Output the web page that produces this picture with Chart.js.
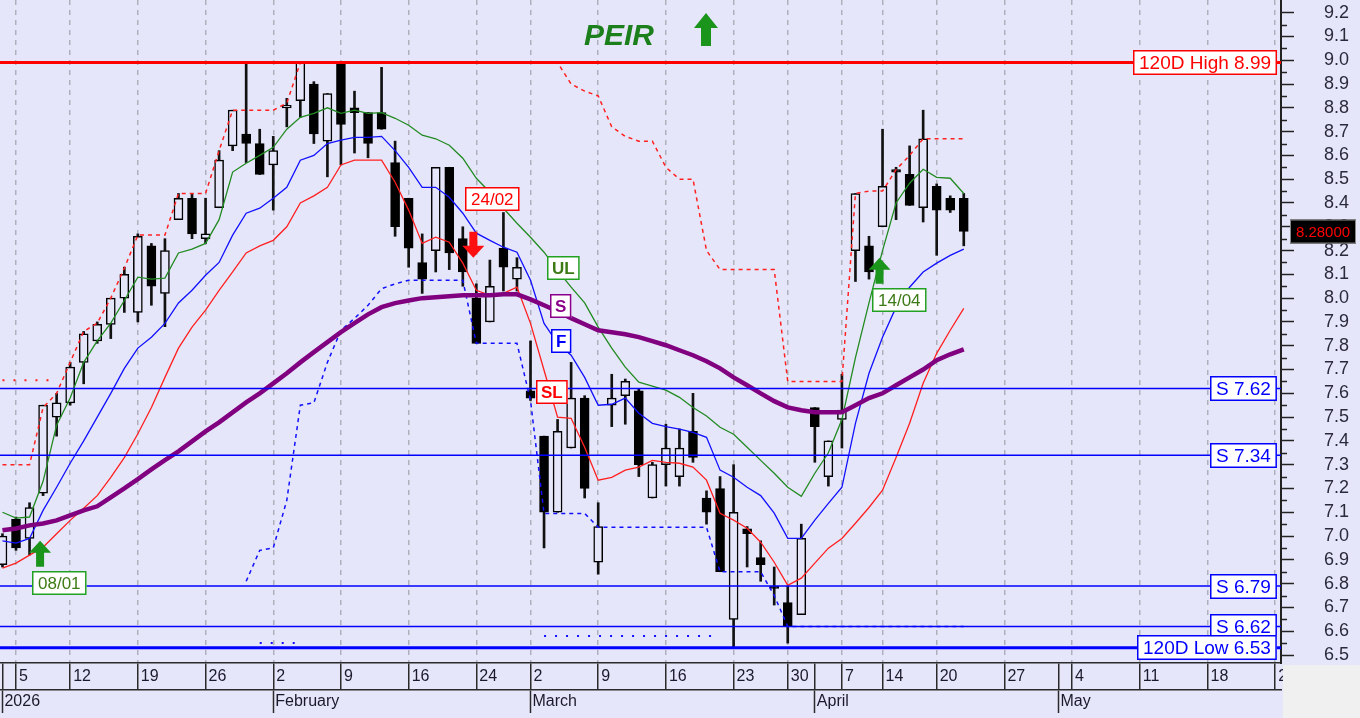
<!DOCTYPE html>
<html>
<head>
<meta charset="utf-8">
<script src="https://cdn.jsdelivr.net/npm/chart.js@4.4.1/dist/chart.umd.min.js"></script>
<style>
  html, body { margin: 0; padding: 0; background: #e6e6fa; }
  #wrap { width: 1360px; height: 718px; }
</style>
</head>
<body>
<div id="wrap"><canvas id="chart" width="1360" height="718"></canvas></div>
<script>
// ---- data ----
// trading days shown (index -1 = 2 Jan 2026)
const tradingDays = [
  '02/01','05/01','07/01','08/01','09/01','12/01','13/01','14/01','15/01','16/01',
  '19/01','20/01','21/01','22/01','23/01','26/01','27/01','28/01','29/01','30/01',
  '02/02','03/02','04/02','05/02','06/02','09/02','10/02','11/02','12/02','13/02',
  '16/02','17/02','18/02','19/02','20/02','24/02','25/02','26/02','27/02',
  '02/03','03/03','04/03','05/03','06/03','09/03','10/03','11/03','12/03','13/03',
  '16/03','17/03','18/03','19/03','20/03','23/03','24/03','26/03','27/03','30/03','31/03',
  '01/04','02/04','07/04','08/04','09/04','14/04','15/04','16/04','17/04','20/04','21/04','22/04'
];

const openP = [
  6.88, 7.07, 6.99, 7.18, 7.50, 7.56, 7.73, 7.82, 7.89, 8.00,
  7.94, 8.22, 8.02, 8.33, 8.42, 8.25, 8.38, 8.64, 8.69, 8.65,
  8.56, 8.80, 8.83, 8.90, 8.66, 8.99, 8.80, 8.78, 8.78, 8.57,
  8.42, 8.15, 8.20, 8.55, 8.25, 8.00, 7.90, 8.21, 8.08,
  7.61, 7.42, 7.10, 7.37, 7.58, 6.89, 7.55, 7.59, 7.61, 7.16,
  7.30, 7.25, 7.44, 7.16, 7.20, 6.65, 7.03, 6.91, 6.79, 6.72, 6.67,
  7.54, 7.25, 7.49, 8.20, 8.22, 8.30, 8.54, 8.52, 8.38, 8.47, 8.42, 8.42
];
const highP = [
  7.01, 7.08, 7.14, 7.55, 7.60, 7.73, 7.86, 7.90, 8.00, 8.13,
  8.27, 8.23, 8.25, 8.44, 8.44, 8.42, 8.62, 8.79, 8.99, 8.71,
  8.68, 8.84, 8.99, 8.91, 8.86, 8.99, 8.87, 8.78, 8.97, 8.66,
  8.42, 8.27, 8.55, 8.55, 8.30, 8.06, 8.16, 8.36, 8.17,
  7.82, 7.42, 7.49, 7.73, 7.59, 7.14, 7.68, 7.66, 7.62, 7.31,
  7.47, 7.45, 7.60, 7.19, 7.25, 7.30, 7.04, 6.98, 6.87, 6.79, 7.05,
  7.54, 7.40, 7.68, 8.44, 8.26, 8.71, 8.55, 8.64, 8.79, 8.48, 8.43, 8.44
];
const lowP = [
  6.87, 6.94, 6.92, 7.17, 7.42, 7.55, 7.64, 7.81, 7.83, 7.94,
  7.90, 7.97, 7.88, 8.33, 8.25, 8.23, 8.38, 8.62, 8.57, 8.52,
  8.37, 8.72, 8.76, 8.65, 8.51, 8.56, 8.61, 8.59, 8.71, 8.26,
  8.13, 8.02, 8.11, 8.12, 8.05, 7.81, 7.90, 8.03, 8.03,
  7.57, 6.95, 7.10, 7.37, 7.16, 6.84, 7.46, 7.47, 7.25, 7.16,
  7.21, 7.21, 7.31, 7.05, 6.85, 6.53, 6.87, 6.81, 6.71, 6.55, 6.67,
  7.31, 7.21, 7.37, 8.07, 8.08, 8.30, 8.33, 8.39, 8.32, 8.18, 8.36, 8.22
];
const closeP = [
  7.00, 6.95, 7.12, 7.55, 7.56, 7.71, 7.85, 7.89, 8.00, 8.10,
  8.26, 8.05, 8.20, 8.42, 8.27, 8.27, 8.58, 8.79, 8.65, 8.52,
  8.62, 8.81, 8.99, 8.69, 8.86, 8.73, 8.78, 8.65, 8.71, 8.30,
  8.21, 8.08, 8.55, 8.19, 8.11, 7.81, 8.05, 8.13, 8.13,
  7.58, 7.10, 7.44, 7.58, 7.20, 7.04, 7.58, 7.65, 7.30, 7.30,
  7.37, 7.37, 7.33, 7.10, 6.85, 7.10, 7.01, 6.88, 6.78, 6.62, 6.99,
  7.46, 7.40, 7.53, 8.44, 8.11, 8.47, 8.53, 8.39, 8.67, 8.37, 8.37, 8.28
];

// indicator lines (one value per trading day)
const lineUL = [
  7.10, 7.075, 7.08, 7.23, 7.466, 7.58, 7.73, 7.82, 7.895, 7.99,
  8.088, 8.08, 8.084, 8.19, 8.206, 8.23, 8.33, 8.53, 8.567, 8.60,
  8.634, 8.71, 8.76, 8.777, 8.80, 8.777, 8.79, 8.777, 8.78, 8.756,
  8.727, 8.685, 8.67, 8.643, 8.588, 8.504, 8.445, 8.378, 8.315,
  8.256, 8.193, 8.117, 8.046, 7.98, 7.878, 7.79, 7.71, 7.647, 7.63,
  7.613, 7.583, 7.54, 7.505, 7.457, 7.428, 7.373, 7.318, 7.264, 7.205, 7.167,
  7.264, 7.35, 7.49, 7.75, 7.98, 8.20, 8.40, 8.483, 8.542, 8.508, 8.504, 8.44
];
const lineF = [
  6.98, 6.97, 6.99, 7.108, 7.205, 7.306, 7.40, 7.50, 7.60, 7.705,
  7.79, 7.836, 7.894, 7.98, 8.033, 8.096, 8.15, 8.265, 8.357, 8.378,
  8.42, 8.466, 8.58, 8.60, 8.65, 8.664, 8.676, 8.676, 8.68, 8.62,
  8.55, 8.466, 8.466, 8.424, 8.357, 8.273, 8.243, 8.214, 8.193,
  8.075, 7.894, 7.81, 7.76, 7.667, 7.55, 7.554, 7.58, 7.516, 7.474,
  7.46, 7.449, 7.436, 7.415, 7.277, 7.247, 7.205, 7.17, 7.096, 6.99, 6.99,
  7.067, 7.137, 7.205, 7.474, 7.684, 7.836, 7.962, 8.046, 8.11, 8.147, 8.18, 8.206
];
const lineSL = [
  6.865, 6.886, 6.92, 6.953, 7.01, 7.066, 7.117, 7.17, 7.247, 7.33,
  7.43, 7.54, 7.667, 7.79, 7.878, 7.95, 8.033, 8.11, 8.19, 8.22,
  8.243, 8.30, 8.40, 8.43, 8.466, 8.56, 8.58, 8.58, 8.58, 8.487,
  8.37, 8.23, 8.256, 8.235, 8.147, 8.033, 8.012, 8.02, 8.046,
  7.894, 7.697, 7.50, 7.495, 7.373, 7.235, 7.247, 7.277, 7.29, 7.318,
  7.31, 7.306, 7.29, 7.235, 7.096, 7.067, 7.033, 6.974, 6.89, 6.793, 6.823,
  6.886, 6.949, 6.99, 7.054, 7.12, 7.193, 7.33, 7.474, 7.642, 7.768, 7.865, 7.957
];
const lineS = [
  7.024, 7.032, 7.045, 7.053, 7.066, 7.087, 7.108, 7.125, 7.163, 7.20,
  7.239, 7.28, 7.319, 7.356, 7.398, 7.44, 7.478, 7.52, 7.562, 7.60,
  7.642, 7.684, 7.73, 7.773, 7.815, 7.857, 7.895, 7.932, 7.962, 7.979,
  7.99, 8.00, 8.004, 8.008, 8.012, 8.012, 8.012, 8.016, 8.016,
  7.995, 7.97, 7.945, 7.916, 7.89, 7.865, 7.857, 7.848, 7.836, 7.819,
  7.802, 7.781, 7.76, 7.735, 7.705, 7.667, 7.634, 7.60, 7.567, 7.541, 7.529,
  7.52, 7.52, 7.52, 7.55, 7.58, 7.60, 7.634, 7.667, 7.70, 7.739, 7.764, 7.785
];
// trailing stops (null = not drawn)
const stopHigh = [
  7.30, 7.30, 7.30, 7.54, 7.60, 7.73, 7.86, 7.895, 8.00, 8.126,
  8.265, 8.265, 8.265, 8.44, 8.44, 8.44, 8.62, 8.79, 8.79, 8.79,
  8.79, 8.82, 8.99, 8.99, 8.99, 8.99, 8.99, 8.99, 8.99, 8.99,
  8.99, 8.99, 8.99, 8.99, 8.99, 8.99, 8.99, 8.99, 8.99,
  8.99, 8.99, 8.99, 8.90, 8.87, 8.85, 8.72, 8.68, 8.66, 8.66,
  8.55, 8.50, 8.50, 8.20, 8.12, 8.12, 8.12, 8.12, 8.12, 7.65, 7.65,
  7.65, 7.65, 7.65, 8.44, 8.45, 8.45, 8.54, 8.60, 8.67, 8.67, 8.67, 8.67
];
const stopLow = [
  null, null, null, null, null, null, null, null, null, null,
  null, null, null, null, null, null, null, null, 6.81, 6.94,
  6.95, 7.15, 7.55, 7.56, 7.73, 7.865, 7.915, 7.97, 8.04, 8.06,
  8.075, 8.075, 8.075, 8.075, 8.075, 7.81, 7.81, 7.81, 7.81,
  7.57, 7.095, 7.095, 7.095, 7.095, 7.037, 7.037, 7.037, 7.037, 7.037,
  7.037, 7.037, 7.037, 7.037, 6.85, 6.85, 6.85, 6.85, 6.75, 6.62, 6.62,
  6.62, 6.62, 6.62, 6.62, 6.62, 6.62, 6.62, 6.62, 6.62, 6.62, 6.62, 6.62
];
// dotted older stop segments: [first index, last index, level]
const dotRed = [-1, 3, 7.655];
const dotBlueA = [18, 21, 6.55];
const dotBlueB = [39, 52, 6.58];

// horizontal levels
const levelValues = [8.99, 7.62, 7.34, 6.79, 6.62, 6.53];
const levelLabels = ['120D High 8.99', 'S 7.62', 'S 7.34', 'S 6.79', 'S 6.62', '120D Low 6.53'];

// signals
const signalIdx = [2, 34, 64];
const signalDir = ['up', 'down', 'up'];
const signalPrice = [6.98, 8.17, 8.17];
const signalLabels = ['08/01', '24/02', '14/04'];

const lastPrice = 8.28;

// axis ticks (positions are trading-day indexes, future days continue the count)
const weekTickIdx = [-1, 0, 4, 9, 14, 19, 24, 29, 34, 38, 43, 48, 53, 57, 61, 64, 68, 73, 78, 83, 88, 93];
const weekTickLabels = ['', '5', '12', '19', '26', '2', '9', '16', '24', '2', '9', '16', '23', '30', '7', '14', '20', '27', '4', '11', '18', '25'];
const monthTickIdx = [-1, 19, 38, 59, 77];
const monthTickLabels = ['2026', 'February', 'March', 'April', 'May'];
const yTickLabels = ['6.5','6.6','6.7','6.8','6.9','7.0','7.1','7.2','7.3','7.4','7.5','7.6','7.7','7.8',
  '7.9','8.0','8.1','8.2','8.3','8.4','8.5','8.6','8.7','8.8','8.9','9.0','9.1','9.2'];

// ---- chart ----
const BG = '#e6e6fa';
const FONT = 'Liberation Sans, Arial, sans-serif';
const X_MIN = -1.182, X_MAX = 93.43;
const Y_MIN = 6.4664, Y_MAX = 9.2532;

const idx = tradingDays.map((d, i) => i - 1);
const xy = arr => idx.map((x, i) => ({x: x, y: arr[i]})).filter(p => p.y !== null);
const seg = s => [{x: s[0], y: s[2]}, {x: s[1], y: s[2]}];
const isDown = i => closeP[i] < openP[i];

const dayTicks = weekTickIdx.concat(monthTickIdx.filter(v => weekTickIdx.indexOf(v) < 0)).sort((a, b) => a - b);
const gridTicks = weekTickIdx.filter(v => v >= 0);

function noPad(s) {
  s.paddingTop = 0; s.paddingBottom = 0; s.paddingLeft = 0; s.paddingRight = 0;
}

function lineDs(label, arr, color, width, dash, order) {
  return {
    type: 'line', label: label, data: xy(arr), borderColor: color, borderWidth: width,
    borderDash: dash || [], pointRadius: 0, tension: 0, fill: false, order: order
  };
}
function levelDs(v, i) {
  const red = i === 0;
  const thick = i === 0 || i === levelValues.length - 1;
  return {
    type: 'line', label: levelLabels[i], data: [{x: X_MIN, y: v}, {x: X_MAX, y: v}],
    borderColor: red ? '#ff0000' : '#0000ff', borderWidth: thick ? 3 : 1.5,
    pointRadius: 0, fill: false, order: 0
  };
}

function tag(ctx, text, cx, cy, border, color, font, padX, h) {
  ctx.font = font;
  const w = ctx.measureText(text).width + padX * 2;
  const x = Math.round(cx - w / 2), y = Math.round(cy - h / 2);
  ctx.fillStyle = '#ffffff';
  ctx.fillRect(x, y, w, h);
  ctx.lineWidth = 1.5;
  ctx.strokeStyle = border;
  ctx.strokeRect(x + 0.75, y + 0.75, w - 1.5, h - 1.5);
  ctx.fillStyle = color;
  ctx.textAlign = 'center';
  ctx.textBaseline = 'middle';
  ctx.fillText(text, x + w / 2, y + h / 2 + 1);
  return {x: x, y: y, w: w, h: h};
}

function arrow(ctx, cx, tipY, dir, color, H, head, hw, sw) {
  const s = dir === 'up' ? 1 : -1;
  ctx.beginPath();
  ctx.moveTo(cx, tipY);
  ctx.lineTo(cx + hw, tipY + s * head);
  ctx.lineTo(cx + sw, tipY + s * head);
  ctx.lineTo(cx + sw, tipY + s * H);
  ctx.lineTo(cx - sw, tipY + s * H);
  ctx.lineTo(cx - sw, tipY + s * head);
  ctx.lineTo(cx - hw, tipY + s * head);
  ctx.closePath();
  ctx.fillStyle = color;
  ctx.fill();
}

const overlay = {
  id: 'overlay',
  beforeDraw(chart) {
    const ctx = chart.ctx;
    ctx.save();
    ctx.fillStyle = BG;
    ctx.fillRect(0, 0, chart.width, chart.height);
    ctx.restore();
  },
  afterDatasetsDraw(chart) {
    const {ctx, chartArea, scales: {x, y}} = chart;
    ctx.save();

    // line name tags
    const tags = [
      ['UL', 40.4, 8.125, '#22a022', '#3c7a16'],
      ['S', 40.2, 7.965, '#8b008b', '#8b008b'],
      ['F', 40.3, 7.82, '#0000ff', '#0000ff'],
      ['SL', 39.6, 7.605, '#ff0000', '#ff0000']
    ];
    tags.forEach(t => tag(ctx, t[0], x.getPixelForValue(t[1]), y.getPixelForValue(t[2]), t[3], t[4], 'bold 17px ' + FONT, 5, 24));

    // signals
    signalIdx.forEach((si, k) => {
      const px = x.getPixelForValue(si) - 3;
      const py = y.getPixelForValue(signalPrice[k]);
      const up = signalDir[k] === 'up';
      const col = up ? '#1a941a' : '#ff1010';
      arrow(ctx, px, py, signalDir[k], col, 26, 12, 11, 4);
      ctx.font = '17px ' + FONT;
      const w = ctx.measureText(signalLabels[k]).width + 12;
      const cy = up ? py + 26 + 16 : py - 26 - 33;
      tag(ctx, signalLabels[k], px - 8 + w / 2, cy, up ? '#22a022' : '#ff0000', up ? '#3c7a16' : '#ff0000', '17px ' + FONT, 6, 24);
    });

    // level tags
    levelValues.forEach((v, i) => {
      const red = i === 0;
      ctx.font = '19px ' + FONT;
      const w = ctx.measureText(levelLabels[i]).width + 12;
      const cx = chartArea.right - 4 - w / 2;
      tag(ctx, levelLabels[i], cx, y.getPixelForValue(v), red ? '#ff0000' : '#0000ff', red ? '#ff0000' : '#0000ff', '19px ' + FONT, 6, 25);
    });

    // title
    ctx.font = 'italic bold 30px ' + FONT;
    ctx.fillStyle = '#1b7f1b';
    ctx.textAlign = 'left';
    ctx.textBaseline = 'alphabetic';
    ctx.fillText('PEIR', 584, 45);
    arrow(ctx, 706, 13, 'up', '#1a941a', 33, 15, 12, 5);
    ctx.restore();
  },
  afterDraw(chart) {
    const {ctx, chartArea, scales: {y}} = chart;
    ctx.save();
    // minor ticks
    ctx.strokeStyle = '#222';
    ctx.lineWidth = 1.5;
    for (let k = 0; k < yTickLabels.length - 1; k++) {
      const v = (parseFloat(yTickLabels[k]) + parseFloat(yTickLabels[k + 1])) / 2;
      const py = Math.round(y.getPixelForValue(v)) + 0.5;
      ctx.beginPath();
      ctx.moveTo(y.left, py);
      ctx.lineTo(y.left + 6, py);
      ctx.stroke();
    }
    // last price box
    const py = y.getPixelForValue(lastPrice);
    ctx.fillStyle = '#000';
    ctx.fillRect(y.left + 9, py - 12, 66, 24);
    ctx.strokeStyle = '#888';
    ctx.lineWidth = 1;
    ctx.strokeRect(y.left + 9.5, py - 11.5, 65, 23);
    ctx.fillStyle = '#ff0000';
    ctx.font = '15px ' + FONT;
    ctx.textAlign = 'center';
    ctx.textBaseline = 'middle';
    ctx.fillText(lastPrice.toFixed(5), y.left + 42, py + 1);
    // corner
    ctx.fillStyle = '#f0f0f0';
    ctx.fillRect(chartArea.right + 2, chartArea.bottom + 2, chart.width - chartArea.right, chart.height - chartArea.bottom);
    ctx.restore();
  }
};

const datasets = [
  levelDs(levelValues[0], 0), levelDs(levelValues[1], 1), levelDs(levelValues[2], 2),
  levelDs(levelValues[3], 3), levelDs(levelValues[4], 4), levelDs(levelValues[5], 5),
  lineDs('S', lineS, '#800080', 4.5, null, 2),
  lineDs('UL', lineUL, '#228b22', 1.3, null, 3),
  lineDs('F', lineF, '#1010ff', 1.3, null, 4),
  lineDs('SL', lineSL, '#ff2020', 1.3, null, 5),
  lineDs('stop high', stopHigh, '#ff2020', 1.5, [4, 4], 6),
  lineDs('stop low', stopLow, '#1010ff', 1.5, [4, 4], 7),
  {type: 'line', label: 'old stop', data: seg(dotRed), borderColor: '#ff2020', borderWidth: 2, borderDash: [2, 9], pointRadius: 0, order: 8},
  {type: 'line', label: 'old low a', data: seg(dotBlueA), borderColor: '#1010ff', borderWidth: 2, borderDash: [2, 9], pointRadius: 0, order: 8},
  {type: 'line', label: 'old low b', data: seg(dotBlueB), borderColor: '#1010ff', borderWidth: 2, borderDash: [2, 9], pointRadius: 0, order: 8},
  {
    type: 'bar', label: 'body',
    data: idx.map((x, i) => ({x: x, y: [openP[i], closeP[i]]})),
    backgroundColor: idx.map((x, i) => isDown(i) ? '#000000' : BG),
    borderColor: '#000000', borderWidth: 1.5, borderSkipped: false,
    barThickness: 9, grouped: false, order: 20
  },
  {
    type: 'bar', label: 'wick',
    data: idx.map((x, i) => ({x: x, y: [lowP[i], highP[i]]})),
    backgroundColor: '#111111', borderWidth: 0,
    barThickness: 2, grouped: false, order: 21
  }
];

new Chart(document.getElementById('chart'), {
  type: 'bar',
  data: {datasets: datasets},
  plugins: [overlay],
  options: {
    responsive: false,
    animation: false,
    devicePixelRatio: 1,
    layout: {padding: {left: 0, right: 0, top: 0, bottom: 5}},
    plugins: {legend: {display: false}, tooltip: {enabled: false}},
    scales: {
      x: {
        type: 'linear', position: 'bottom', min: X_MIN, max: X_MAX, offset: false, weight: 0,
        afterBuildTicks: s => { s.ticks = dayTicks.map(v => ({value: v})); },
        afterFit: s => { s.height = 27; noPad(s); },
        ticks: {
          autoSkip: false, maxRotation: 0, align: 'start', labelOffset: 3, padding: -22.6,
          color: '#1a1a2a', font: {family: FONT, size: 16},
          callback: v => { const k = weekTickIdx.indexOf(v); return k < 0 ? '' : weekTickLabels[k]; }
        },
        grid: {
          offset: false, drawOnChartArea: true, lineWidth: 1.5, tickLength: 27, tickWidth: 1.5, tickColor: '#2a2a2a',
          color: c => (c.tick && gridTicks.indexOf(c.tick.value) >= 0) ? '#b0b0bc' : 'rgba(0,0,0,0)'
        },
        border: {display: true, color: '#2a2a2a', width: 1.5, dash: [5, 5]}
      },
      x2: {
        type: 'linear', position: 'bottom', min: X_MIN, max: X_MAX, offset: false, weight: 1,
        afterBuildTicks: s => { s.ticks = monthTickIdx.map(v => ({value: v})); },
        afterFit: s => { s.height = 23; noPad(s); },
        ticks: {
          autoSkip: false, maxRotation: 0, align: 'start', labelOffset: 2, padding: -21,
          color: '#1a1a2a', font: {family: FONT, size: 16},
          callback: v => monthTickLabels[monthTickIdx.indexOf(v)]
        },
        grid: {offset: false, drawOnChartArea: false, tickLength: 23, tickWidth: 1.5, tickColor: '#2a2a2a', color: '#2a2a2a'},
        border: {display: true, color: '#2a2a2a', width: 1.5}
      },
      y: {
        type: 'linear', position: 'right', min: Y_MIN, max: Y_MAX,
        afterBuildTicks: s => { s.ticks = yTickLabels.map(t => ({value: parseFloat(t)})); },
        afterFit: s => { s.width = 79; noPad(s); },
        ticks: {
          autoSkip: false, padding: 30, color: '#2a2a3a', font: {family: FONT, size: 18},
          callback: (v, i) => yTickLabels[i]
        },
        grid: {drawOnChartArea: false, tickLength: 13, tickWidth: 1.5, tickColor: '#222'},
        border: {display: true, color: '#222', width: 2}
      }
    }
  }
});
</script>
</body>
</html>
